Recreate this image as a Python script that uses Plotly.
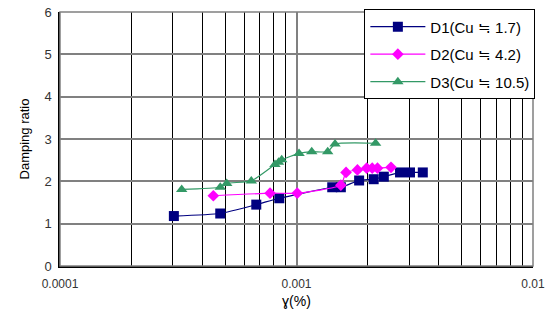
import plotly.graph_objects as go

d1_x = [3.03e-4, 4.76e-4, 6.76e-4, 8.46e-4, 1.416e-3, 1.54e-3, 1.84e-3, 2.12e-3, 2.34e-3, 2.74e-3, 3.02e-3, 3.42e-3]
d1_y = [1.18, 1.24, 1.45, 1.60, 1.86, 1.86, 2.02, 2.05, 2.11, 2.21, 2.21, 2.21]

d2_x = [4.45e-4, 7.73e-4, 1.007e-3, 1.54e-3, 1.62e-3, 1.81e-3, 1.98e-3, 2.09e-3, 2.20e-3, 2.51e-3]
d2_y = [1.66, 1.72, 1.72, 1.91, 2.21, 2.27, 2.31, 2.31, 2.31, 2.33]

d3_x = [3.27e-4, 4.76e-4, 5.07e-4, 6.44e-4, 8.11e-4, 8.4e-4, 8.66e-4, 1.025e-3, 1.16e-3, 1.355e-3, 1.455e-3, 2.16e-3]
d3_y = [1.81, 1.86, 1.95, 2.01, 2.40, 2.45, 2.51, 2.66, 2.70, 2.70, 2.88, 2.90]

names = ["D1(Cu ≒ 1.7)", "D2(Cu ≒ 4.2)", "D3(Cu ≒ 10.5)"]
x_ticks = [0.0001, 0.001, 0.01]
x_tick_labels = ["0.0001", "0.001", "0.01"]
x_minor = [m * 10.0 ** e for e in (-4, -3) for m in range(2, 10)]

font_fam = "Liberation Sans, Noto Sans CJK KR, sans-serif"

fig = go.Figure()
fig.add_trace(go.Scatter(x=d1_x, y=d1_y, name=names[0], legendgroup="g1", mode="lines+markers",
                         line=dict(color="#000080", width=1.2, shape="spline", smoothing=0.5),
                         marker=dict(symbol="square", size=10, color="#000080")))
fig.add_trace(go.Scatter(x=d2_x, y=d2_y, name=names[1], legendgroup="g2", mode="lines+markers",
                         line=dict(color="#FF00FF", width=1.2, shape="spline", smoothing=0.5),
                         marker=dict(symbol="diamond", size=9, color="#FF00FF")))
fig.add_trace(go.Scatter(x=d3_x, y=d3_y, name=names[2], legendgroup="g3", mode="lines+markers",
                         line=dict(color="#339966", width=1.2, shape="spline", smoothing=0.5),
                         marker=dict(symbol="triangle-up", size=10, color="#339966")))

fig.update_layout(
    width=547, height=322,
    margin=dict(l=60, r=14, t=12, b=56, autoexpand=False),
    paper_bgcolor="white", plot_bgcolor="white",
    font=dict(family=font_fam, size=12, color="black"),
    showlegend=True,
    legend=dict(x=1.005, y=1.01, xanchor="right", yanchor="top",
                bordercolor="black", borderwidth=1, bgcolor="white",
                font=dict(size=15), tracegroupgap=5, itemwidth=55),
    xaxis=dict(type="log", range=[-4, -2], tickmode="array", tickvals=x_ticks, ticktext=x_tick_labels,
               showgrid=True, gridcolor="#808080", gridwidth=1.5,
               minor=dict(tickmode="array", tickvals=x_minor, showgrid=True,
                          gridcolor="black", gridwidth=1, ticks=""),
               showline=True, linecolor="black", linewidth=1.5, mirror=False,
               ticks="", zeroline=False, automargin=False, ticklabelstandoff=6,
               title=dict(text="ɣ(%)", font=dict(size=14), standoff=6),
               tickfont=dict(size=12, color="#333333")),
    yaxis=dict(range=[0, 6], dtick=1, showgrid=True, gridcolor="#808080", gridwidth=1.5,
               showline=True, linecolor="black", linewidth=1.5, zeroline=False,
               ticks="", automargin=False, ticklabelstandoff=4,
               title=dict(text="Damping ratio", font=dict(size=13), standoff=12),
               tickfont=dict(size=13, color="#333333")),
)
fig.add_shape(type="rect", xref="paper", yref="paper", x0=0, y0=0, x1=1, y1=1,
              line=dict(color="#808080", width=1.5))

fig.write_html("out.html", config={"displayModeBar": False},
               post_script="document.body.style.margin='0';document.body.style.padding='0';")
